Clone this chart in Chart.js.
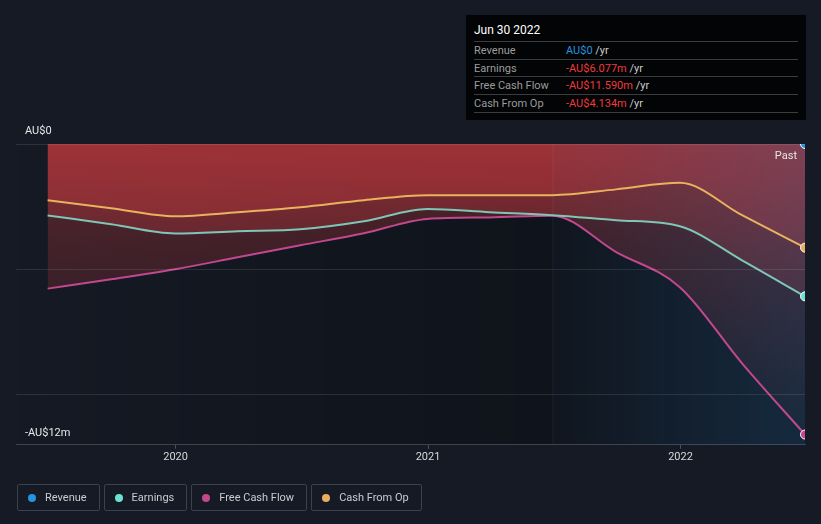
<!DOCTYPE html>
<html>
<head>
<meta charset="utf-8">
<script src="https://cdn.jsdelivr.net/npm/chart.js@4"></script>
<style>
  html, body { margin: 0; padding: 0; background: #151a24; font-family: Roboto, "Noto Sans", sans-serif; }
  #wrap { position: relative; width: 821px; height: 524px; overflow: hidden; }
  #chart { position: absolute; left: 0; top: 0; }
  #tip { position: absolute; left: 466px; top: 15px; width: 340px; height: 105px; background: #030405; }
  #tip .title { position: absolute; left: 8px; top: 8px; color: #fff; font-size: 12px; }
  #tip .row { position: absolute; left: 8px; width: 324px; height: 17px; border-top: 1px solid #3a3c40; font-size: 11px; line-height: 17px; }
  #tip .row.last { border-bottom: 1px solid #3a3c40; }
  #tip .lab { position: absolute; left: 0; color: #9c9c9c; }
  #tip .val { position: absolute; left: 92px; color: #ccc; }
  #legend { position: absolute; left: 17px; top: 484px; display: flex; gap: 4px; }
  .item { height: 25px; border: 1px solid #3b414d; border-radius: 2px; display: flex; align-items: center; padding: 0 12px 0 10px; color: #c9ccd1; font-size: 11px; }
  .dot { width: 8px; height: 8px; border-radius: 50%; margin-right: 9px; }
</style>
</head>
<body>
<div id="wrap">
  <canvas id="chart" width="821" height="524"></canvas>
  <div id="tip"></div>
  <div id="legend"></div>
</div>
<script>
// quarter ends, values in AU$ millions
const periods = ['2019-06-30', '2019-09-30', '2019-12-31', '2020-03-31', '2020-06-30', '2020-09-30', '2020-12-31',
  '2021-03-31', '2021-06-30', '2021-09-30', '2021-12-31', '2022-03-31', '2022-06-30'];
const revenue = [0, 0, 0, 0, 0, 0, 0, 0, 0, 0, 0, 0, 0];
const earnings = [-2.85, -3.2, -3.57, -3.48, -3.4, -3.08, -2.59, -2.72, -2.84, -3.04, -3.28, -4.64, -6.077];
const freeCashFlow = [-5.77, -5.4, -5.0, -4.52, -4.04, -3.56, -2.99, -2.93, -2.86, -4.31, -5.71, -8.75, -11.59];
const cashFromOp = [-2.24, -2.56, -2.88, -2.72, -2.52, -2.24, -2.04, -2.04, -2.04, -1.81, -1.55, -2.84, -4.134];
const yearTicks = [2020, 2021, 2022];
const pastStart = '2021-06-30';

const seriesNames = ['Revenue', 'Earnings', 'Free Cash Flow', 'Cash From Op'];
const lineColors = ['#2394df', '#7fc6b7', '#c2488e', '#e8b25e'];
const dotColors = ['#2394df', '#6ee2d2', '#c2488e', '#e8ad5e'];
const tipValues = ['AU$0', '-AU$6.077m', '-AU$11.590m', '-AU$4.134m'];

function yearFrac(s) {
  const d = new Date(s + 'T00:00:00Z');
  const y = d.getUTCFullYear();
  const a = Date.UTC(y, 0, 1), b = Date.UTC(y + 1, 0, 1);
  return y + (d - a) / (b - a);
}
const xs = periods.map(yearFrac);
const toPoints = arr => arr.map((v, i) => ({ x: xs[i], y: v }));

// tooltip box + legend (html)
const tip = document.getElementById('tip');
tip.innerHTML = '<div class="title">Jun 30 2022</div>' + seriesNames.map((n, i) =>
  '<div class="row' + (i === 3 ? ' last' : '') + '" style="top:' + (26 + i * 17.5) + 'px">' +
  '<span class="lab">' + n + '</span><span class="val"><span style="color:' + (i === 0 ? '#2394df' : '#f0393c') + '">' +
  tipValues[i] + '</span> /yr</span></div>').join('');
document.getElementById('legend').innerHTML = seriesNames.map((n, i) =>
  '<div class="item"><span class="dot" style="background:' + dotColors[i] + '"></span>' + n + '</div>').join('');

function redFill(ctx) {
  const area = ctx.chart.chartArea;
  if (!area) return 'rgba(190,57,62,0.3)';
  const g = ctx.chart.ctx.createLinearGradient(0, area.top, 0, area.bottom);
  g.addColorStop(0, 'rgba(190,57,62,0.42)');
  g.addColorStop(1, 'rgba(190,57,62,0)');
  return g;
}

const lastIdx = periods.length - 1;
const datasets = [revenue, earnings, freeCashFlow, cashFromOp].map((arr, i) => ({
  label: seriesNames[i],
  data: toPoints(arr),
  borderColor: lineColors[i],
  borderWidth: i === 0 ? 0 : 2,
  fill: i === 0 ? false : 'origin',
  backgroundColor: redFill,
  cubicInterpolationMode: 'monotone',
  pointRadius: c => c.dataIndex === lastIdx ? 4.5 : 0,
  pointBackgroundColor: dotColors[i],
  pointBorderColor: '#ffffff',
  pointBorderWidth: 1
}));

const decor = {
  id: 'decor',
  beforeDatasetsDraw(chart) {
    const { ctx, chartArea: a, scales: { x } } = chart;
    const px = x.getPixelForValue(yearFrac(pastStart));
    ctx.save();
    // past region tint
    const g = ctx.createLinearGradient(px, 0, a.right, 0);
    g.addColorStop(0, 'rgba(40,110,170,0.03)');
    g.addColorStop(1, 'rgba(40,110,170,0.25)');
    ctx.fillStyle = g;
    ctx.fillRect(px, a.top, a.right - px, a.bottom - a.top);
    ctx.strokeStyle = 'rgba(255,255,255,0.06)';
    ctx.lineWidth = 1;
    ctx.beginPath();
    ctx.moveTo(px + 0.5, a.top);
    ctx.lineTo(px + 0.5, a.bottom);
    ctx.stroke();
    ctx.restore();
  },
  beforeDraw(chart) {
    const { ctx, chartArea: a, scales: { x } } = chart;
    if (!a) return;
    const px = x.getPixelForValue(yearFrac(pastStart));
    ctx.save();
    const g = ctx.createLinearGradient(a.left, 0, px, 0);
    g.addColorStop(0, 'rgba(0,0,0,0)');
    g.addColorStop(1, 'rgba(0,0,0,0.25)');
    ctx.fillStyle = g;
    ctx.fillRect(a.left, a.top, px - a.left, a.bottom - a.top);
    ctx.fillStyle = 'rgba(0,0,0,0.25)';
    ctx.fillRect(px, a.top, a.right - px, a.bottom - a.top);
    ctx.restore();
  },
  afterDraw(chart) {
    const { ctx, chartArea: a, scales: { y } } = chart;
    ctx.save();
    ctx.font = '11px Roboto';
    ctx.fillStyle = '#e6e6e6';
    ctx.textBaseline = 'middle';
    ctx.textAlign = 'left';
    ctx.fillText('AU$0', 25, y.getPixelForValue(0) - 13);
    ctx.fillText('-AU$12m', 25, y.getPixelForValue(-12) - 12);
    ctx.textAlign = 'right';
    ctx.fillText('Past', a.right - 8, a.top + 12);
    ctx.restore();
  }
};

new Chart(document.getElementById('chart'), {
  type: 'line',
  data: { datasets },
  options: {
    responsive: false,
    animation: false,
    layout: { padding: { left: 16, right: 16, top: 144, bottom: 58 } },
    plugins: { legend: { display: false }, tooltip: { enabled: false }, filler: { drawTime: 'beforeDatasetsDraw' } },
    scales: {
      x: {
        type: 'linear',
        min: 2019.368,
        max: yearFrac('2022-06-30'),
        afterBuildTicks: s => { s.ticks = yearTicks.map(v => ({ value: v })); },
        grid: { drawOnChartArea: false, drawTicks: true, tickLength: 4, color: '#4a505a' },
        border: { color: '#3e434c' },
        ticks: { color: '#d9d9d9', font: { family: 'Roboto', size: 11 }, padding: 2, maxRotation: 0, callback: v => String(v) }
      },
      y: {
        min: -12,
        max: 0,
        afterBuildTicks: s => { s.ticks = [-10, -5, 0].map(v => ({ value: v })); },
        grid: { color: 'rgba(255,255,255,0.1)', drawTicks: false, z: 1 },
        border: { display: false },
        ticks: { display: false }
      }
    }
  },
  plugins: [decor]
});
</script>
</body>
</html>
